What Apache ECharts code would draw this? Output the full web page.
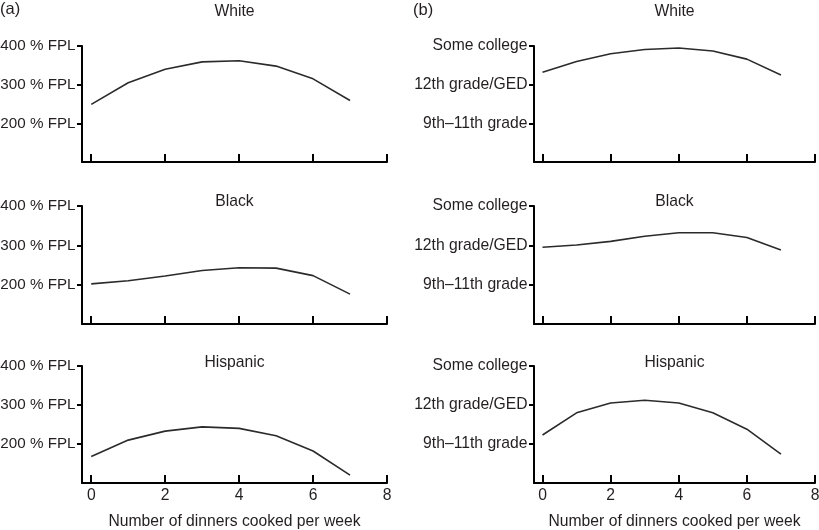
<!DOCTYPE html>
<html><head><meta charset="utf-8">
<script src="https://cdn.jsdelivr.net/npm/echarts@6/dist/echarts.min.js"></script>
<style>html,body{margin:0;padding:0;background:#fff}#c{width:819px;height:530px}</style>
</head><body><div id="c"></div>
<script>
const dinners = [0, 1, 2, 3, 4, 5, 6, 7];
const groups = ['White', 'Black', 'Hispanic'];
const fplWhite = [249, 305, 340, 359, 362, 348, 315, 259];
const fplBlack = [202, 210, 222, 236, 243, 242, 223, 176];
const fplHispanic = [168, 210, 233, 244, 240, 221, 182, 120];
const eduWhite = [2.32, 2.60, 2.80, 2.91, 2.95, 2.87, 2.66, 2.25];
const eduBlack = [1.95, 2.01, 2.10, 2.23, 2.32, 2.32, 2.20, 1.88];
const eduHispanic = [1.23, 1.80, 2.05, 2.12, 2.05, 1.80, 1.38, 0.74];
const fplTicks = [200, 300, 400];
const fplLabels = ['200 % FPL', '300 % FPL', '400 % FPL'];
const eduTicks = [1, 2, 3];
const eduLabels = ['9th\u201311th grade', '12th grade/GED', 'Some college'];
const xTicks = [0, 2, 4, 6, 8];
const panelLabels = ['(a)', '(b)'];
const xTitle = 'Number of dinners cooked per week';

const FONT = 'Liberation Sans, Arial, Helvetica, sans-serif';
const FS = 15.7;
const TXT = '#231f20';
const rowTops = [46, 206, 366];
const rowHeights = [116, 118, 117];
const colLeft = [82, 534];
const colWidth = [305, 281];
const titleY = [12, 202, 363];

const fplData = [fplWhite, fplBlack, fplHispanic];
const eduData = [eduWhite, eduBlack, eduHispanic];

const grids = [], xAxes = [], yAxes = [], series = [], graphics = [];
let idx = 0;
for (let r = 0; r < 3; r++) {
  for (let c = 0; c < 2; c++) {
    grids.push({left: colLeft[c], top: rowTops[r], width: colWidth[c], height: rowHeights[r],
      containLabel: false, outerBoundsMode: 'none'});
    const last = r === 2;
    xAxes.push({
      gridIndex: idx, type: 'value', min: -0.25, max: 8,
      axisLine: {onZero: false, lineStyle: {color: '#000', width: 2}},
      axisTick: {show: true, inside: true, length: 8, customValues: xTicks, lineStyle: {color: '#000', width: 2}},
      axisLabel: {show: last, customValues: xTicks, margin: 5, fontSize: FS, fontFamily: FONT, color: TXT},
      splitLine: {show: false},
      name: last ? xTitle : '', nameLocation: 'middle', nameGap: 31,
      nameTextStyle: {fontSize: FS, fontFamily: FONT, color: TXT}
    });
    const ticks = c === 0 ? fplTicks : eduTicks;
    const labels = c === 0 ? fplLabels : eduLabels;
    yAxes.push({
      gridIndex: idx, type: 'value',
      min: c === 0 ? 100 : 0, max: c === 0 ? 400 : 3,
      axisLine: {show: true, onZero: false, lineStyle: {color: '#000', width: 2}},
      axisTick: {show: true, length: 5, customValues: ticks, lineStyle: {color: '#000', width: 2}},
      axisLabel: {customValues: ticks, margin: 6.5, fontSize: c === 0 ? 15.2 : FS, fontFamily: FONT, color: TXT,
        formatter: (v) => { const k = ticks.indexOf(v); return k >= 0 ? labels[k] : ''; }},
      splitLine: {show: false}
    });
    const vals = c === 0 ? fplData[r] : eduData[r];
    series.push({
      type: 'line', xAxisIndex: idx, yAxisIndex: idx,
      data: dinners.map((x, i) => [x, vals[i]]),
      showSymbol: false, symbol: 'none',
      lineStyle: {color: '#2b2b2b', width: 1.6},
      silent: true
    });
    graphics.push({type: 'text', x: colLeft[c] + colWidth[c] / 2, y: titleY[r],
      style: {text: groups[r], fontSize: FS, fontFamily: FONT, fill: TXT, align: 'center', verticalAlign: 'middle'}});
    idx++;
  }
}
graphics.push({type: 'text', x: 0, y: 9, style: {text: panelLabels[0], fontSize: 16.5, fontFamily: FONT, fill: TXT, align: 'left', verticalAlign: 'middle'}});
graphics.push({type: 'text', x: 413, y: 10, style: {text: panelLabels[1], fontSize: 16.5, fontFamily: FONT, fill: TXT, align: 'left', verticalAlign: 'middle'}});

const chart = echarts.init(document.getElementById('c'), null, {renderer: 'canvas'});
chart.setOption({
  animation: false,
  backgroundColor: '#fff',
  grid: grids, xAxis: xAxes, yAxis: yAxes, series: series,
  graphic: graphics
});
</script>
</body></html>
